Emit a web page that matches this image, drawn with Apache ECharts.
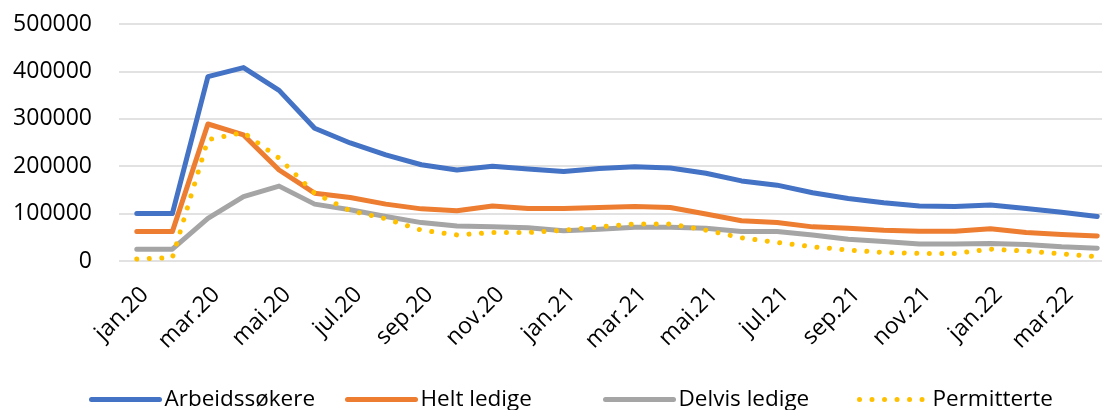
<!DOCTYPE html>
<html><head><meta charset="utf-8">
<script src="https://cdn.jsdelivr.net/npm/echarts@6/dist/echarts.min.js"></script>
<style>html,body{margin:0;padding:0;background:#fff}#c{width:1102px;height:410px}</style>
</head><body><div id="c"></div>
<script>
const categories = ['jan.20','feb.20','mar.20','apr.20','mai.20','jun.20','jul.20','aug.20','sep.20','okt.20','nov.20','des.20',
  'jan.21','feb.21','mar.21','apr.21','mai.21','jun.21','jul.21','aug.21','sep.21','okt.21','nov.21','des.21',
  'jan.22','feb.22','mar.22','apr.22'];
const arbeidssokere = [100000,100000,389000,408000,360000,280000,249000,224000,203000,192000,200000,194000,
  189000,195000,199000,196000,185000,169000,160000,144000,132000,123000,116000,115000,118000,111000,103000,94000];
const heltLedige = [62000,62000,289000,266000,192000,143000,134000,120000,110000,106000,116000,111000,
  111000,113000,115000,113000,99000,85000,81000,72000,69000,65000,63000,63000,68000,60000,56000,53000];
const delvisLedige = [25000,25000,90000,136000,158000,120000,108000,94000,81000,74000,72000,70000,
  64000,67000,71000,71000,69000,62000,62000,55000,46000,41000,36000,36000,37000,35000,30000,27000];
const permitterte = [4000,7000,256000,271000,217000,143000,106000,89000,65000,55000,60000,60000,
  65000,72000,78000,78000,65000,49000,39000,30000,23000,18000,16000,16000,25000,21000,15000,9000];
const seriesNames = ['Arbeidssøkere','Helt ledige','Delvis ledige','Permitterte'];
const colors = ['#4472C4','#ED7D31','#A5A5A5','#FFC000'];

const font = 'Open Sans';
const fs = 23;
const chart = echarts.init(document.getElementById('c'));
function line(name, data, color, dotted) {
  return {
    name, type: 'line', data, symbol: 'none', smooth: false,
    itemStyle: { color },
    lineStyle: dotted ? { color, width: 5, type: [0.01, 12.5], cap: 'round' } : { color, width: 5, cap: 'round', join: 'round' }
  };
}
const legendLefts = [89, 345, 603, 857];
chart.setOption({
  animation: false,
  grid: { left: 119, width: 996, top: 24, bottom: 149, containLabel: false, outerBoundsMode: 'none' },
  legend: seriesNames.map((n, i) => ({
    top: 388, left: legendLefts[i], padding: 0, itemWidth: 68, itemHeight: 14, itemGap: 4,
    itemStyle: { opacity: 0 },
    lineStyle: { width: 5 },
    textStyle: { fontFamily: font, fontSize: 22.5, color: '#000' },
    data: [n]
  })),
  xAxis: {
    type: 'category', data: categories, boundaryGap: true,
    axisLine: { show: false }, axisTick: { show: false },
    axisLabel: { interval: 1, rotate: 45, fontFamily: font, fontSize: fs, color: '#000', margin: 22, verticalAlign: 'top', align: 'right' }
  },
  yAxis: {
    type: 'value', min: 0, max: 500000, interval: 100000,
    axisLine: { show: false }, axisTick: { show: false },
    splitLine: { lineStyle: { color: '#D9D9D9', width: 1.5 } },
    axisLabel: { fontFamily: font, fontSize: fs, color: '#000', margin: 27, formatter: v => String(v) }
  },
  series: [
    line(seriesNames[0], arbeidssokere, colors[0]),
    line(seriesNames[1], heltLedige, colors[1]),
    line(seriesNames[2], delvisLedige, colors[2]),
    line(seriesNames[3], permitterte, colors[3], true)
  ]
});
</script></body></html>
